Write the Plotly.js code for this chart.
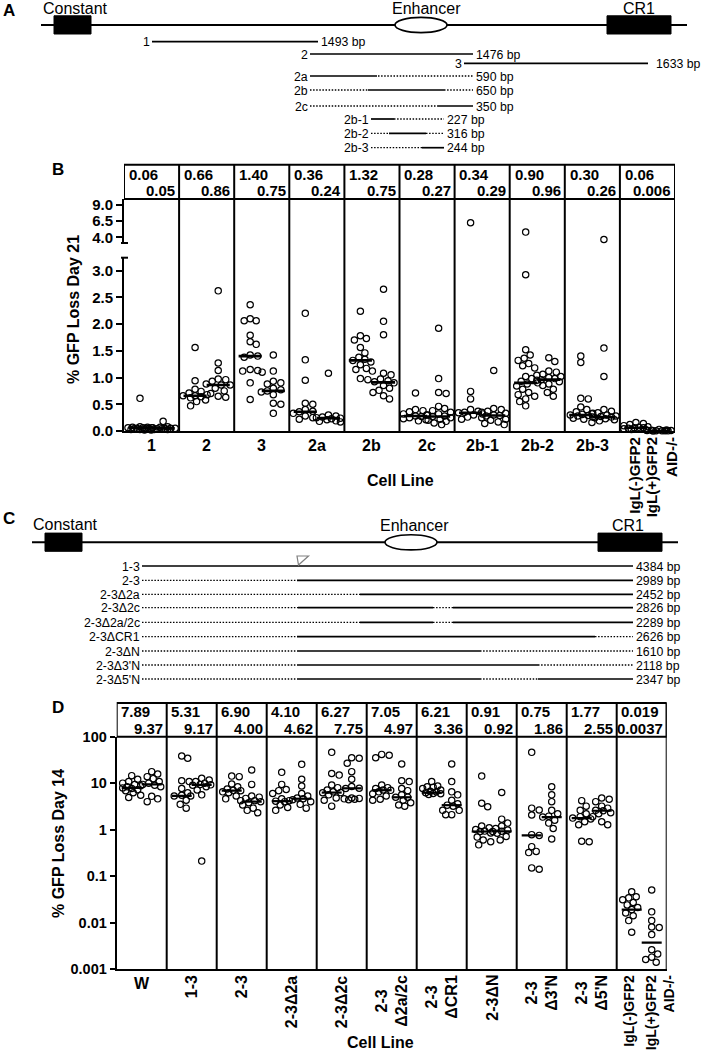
<!DOCTYPE html>
<html><head><meta charset="utf-8">
<script src="https://cdn.plot.ly/plotly-3.0.1.min.js"></script>
<style>html,body{margin:0;padding:0;background:#fff}#chart{width:711px;height:1050px}</style>
</head><body><div id="chart"></div>
<script>
// ================= DATA =================
// Panel A: constructs along the locus (schematic locus units)
const aNames  = ['1','2','3','2a','2b','2c','2b-1','2b-2','2b-3'];
const aSizes  = ['1493 bp','1476 bp','1633 bp','590 bp','650 bp','350 bp','227 bp','316 bp','244 bp'];
const aSolid  = [[[152,318]],[[310,473]],[[464,648]],[[310,377]],[[368,444]],[[438,473]],[[371,394]],[[389,426]],[[422,444]]];
const aDotted = [[],[],[],[[378,473]],[[310,368],[444,473]],[[310,438]],[[394,444]],[[371,389],[426,444]],[[371,422]]];
const aLocus = [41, 687], aConstant = [54, 91], aEnhancer = [395, 447], aCR1 = [607, 671];

// Panel C
const cNames  = ['1-3','2-3','2-3Δ2a','2-3Δ2c','2-3Δ2a/2c','2-3ΔCR1','2-3ΔN',"2-3Δ3'N","2-3Δ5'N"];
const cSizes  = ['4384 bp','2989 bp','2452 bp','2826 bp','2289 bp','2626 bp','1610 bp','2118 bp','2347 bp'];
const cSolid  = [[[142,633]],[[297,633]],[[360,633]],[[298,433],[453,633]],[[360,433],[453,633]],[[297,595]],[[297,480]],[[297,538]],[[297,480],[538,633]]];
const cDotted = [[],[[142,297]],[[142,360]],[[142,298],[433,453]],[[142,360],[433,453]],[[142,297],[595,633]],[[142,297],[480,633]],[[142,297],[538,633]],[[142,297],[480,538]]];
const cLocus = [32, 678], cConstant = [45, 82], cEnhancer = [385, 437], cCR1 = [598, 662];

// Panel B: % GFP loss day 21
const bCats = ['1','2','3','2a','2b','2c','2b-1','2b-2','2b-3'];
const bLastCats = ['IgL(-)GFP2','IgL(+)GFP2<br>AID-/-'];
const bHeadLeft  = ['0.06','0.66','1.40','0.36','1.32','0.28','0.34','0.90','0.30','0.06'];
const bHeadRight = ['0.05','0.86','0.75','0.24','0.75','0.27','0.29','0.96','0.26','0.006'];
const bLineLeft  = [0.06,0.66,1.40,0.36,1.32,0.28,0.34,0.90,0.30,0.06];
const bLineRight = [0.05,0.86,0.75,0.24,0.91,0.27,0.29,0.96,0.26,0.006];
const bPtsLeft = [
  [0.61,0.08,0.07,0.07,0.06,0.06,0.06,0.05,0.05,0.04,0.04,0.03,0.03,0.02],
  [1.56,0.94,0.78,0.74,0.71,0.68,0.66,0.66,0.64,0.62,0.58,0.55,0.47],
  [2.36,2.10,2.06,2.06,1.79,1.67,1.62,1.42,1.40,1.38,1.15,1.13,1.12,1.10,0.90,0.59],
  [2.20,1.33,0.95,0.52,0.50,0.40,0.37,0.36,0.33,0.28,0.25,0.22],
  [2.24,1.78,1.73,1.70,1.56,1.46,1.38,1.34,1.32,1.29,1.24,1.17,1.15,1.12,0.98,0.96],
  [0.71,0.40,0.38,0.36,0.32,0.30,0.28,0.27,0.25,0.23,0.21,0.19],
  [6.25,0.74,0.60,0.40,0.37,0.35,0.34,0.32,0.30,0.26,0.22],
  [4.8,2.92,1.52,1.42,1.36,1.32,1.26,1.22,1.18,1.02,0.98,0.93,0.90,0.88,0.84,0.78,0.72,0.68,0.65,0.60,0.55,0.47],
  [1.40,1.28,0.61,0.60,0.45,0.40,0.36,0.33,0.31,0.30,0.29,0.28,0.26,0.24,0.22],
  [0.16,0.14,0.12,0.10,0.08,0.07,0.06,0.06,0.05,0.04,0.03,0.02]
];
const bPtsRight = [
  [0.18,0.08,0.07,0.06,0.05,0.05,0.05,0.04,0.04,0.03,0.03,0.02],
  [2.62,1.27,1.13,0.97,0.96,0.93,0.88,0.86,0.86,0.80,0.75,0.70,0.65,0.63],
  [1.42,1.12,0.93,0.90,0.88,0.80,0.77,0.75,0.73,0.68,0.52,0.50,0.33],
  [1.08,0.30,0.28,0.26,0.25,0.24,0.23,0.21,0.19,0.18,0.17],
  [2.65,2.05,1.80,1.08,1.05,0.97,0.94,0.92,0.90,0.85,0.80,0.76,0.72,0.66,0.60],
  [1.92,0.98,0.72,0.70,0.46,0.42,0.38,0.35,0.32,0.30,0.28,0.27,0.25,0.22,0.20,0.18,0.15,0.12],
  [1.13,0.42,0.40,0.37,0.35,0.33,0.30,0.29,0.28,0.25,0.22,0.20,0.17,0.14,0.12],
  [1.37,1.30,1.12,1.10,1.06,1.04,1.02,1.00,0.98,0.96,0.95,0.92,0.88,0.85,0.78,0.72,0.65],
  [3.65,1.55,1.02,0.40,0.37,0.34,0.32,0.30,0.28,0.27,0.26,0.25,0.23,0.21,0.19,0.16],
  [0.03,0.02,0.015,0.01,0.008,0.006,0.005,0.004,0.003,0.002]
];
const bTickVals = [0,0.5,1,1.5,2,2.5,3], bTickText = ['0.0','0.5','1.0','1.5','2.0','2.5','3.0'];
const bTopTickVals = [4,6.5,9], bTopTickText = ['4.0','6.5','9.0'];

// Panel D: % GFP loss day 14
const dCats = ['W','1-3','2-3','2-3Δ2a','2-3Δ2c','2-3<br>Δ2a/2c','2-3<br>ΔCR1','2-3ΔN',"2-3<br>Δ3'N","2-3<br>Δ5'N"];
const dLastCats = ['IgL(-)GFP2','IgL(+)GFP2<br>AID-/-'];
const dHeadLeft  = ['7.89','5.31','6.90','4.10','6.27','7.05','6.21','0.91','0.75','1.77','0.019'];
const dHeadRight = ['9.37','9.17','4.00','4.62','7.75','4.97','3.36','0.92','1.86','2.55','0.0037'];
const dPtsLeft = [
  [14.5,12.1,10.8,10.0,9.3,8.8,8.4,7.9,7.7,7.2,6.9,6.2,5.5,4.9],
  [38.4,34.3,11.3,10.8,7.7,6.2,5.5,5.3,5.3,4.3,3.5,2.9],
  [14.2,13.8,9.6,8.4,7.5,7.0,6.9,6.5,6.2,5.3,4.6,4.2],
  [17.1,9.4,7.3,6.9,6.0,4.6,4.2,4.1,4.0,3.4,3.0,2.6],
  [46,16.2,14.9,9.1,8.0,7.1,6.5,6.27,6.2,5.6,4.8,4.3,3.2],
  [41.6,40.0,35.2,9.1,8.0,7.7,7.1,7.0,6.5,5.9,5.3,4.5,4.3],
  [10.8,8.7,8.4,8.2,7.7,7.1,6.7,6.5,6.21,6.0,5.9,5.7],
  [14.2,3.7,3.1,1.2,1.1,1.0,0.93,0.91,0.85,0.69,0.60,0.55,0.47],
  [46,2.9,2.64,2.07,0.78,0.75,0.43,0.34,0.32,0.15,0.14],
  [4.2,3.2,2.6,2.2,1.9,1.77,1.7,1.48,1.27,0.56,0.55],
  [0.046,0.036,0.034,0.031,0.027,0.024,0.021,0.019,0.016,0.014,0.011,0.0062]
];
const dPtsRight = [
  [17.7,15.7,13.8,12.5,10.8,10.0,9.4,9.0,8.4,5.2,4.6,4.0],
  [12.7,11.7,10.8,10.0,9.4,9.2,9.0,8.4,7.1,5.6,0.21],
  [19.2,9.4,5.3,5.0,4.7,4.2,4.0,3.8,3.4,2.9,2.6,2.3],
  [25.4,12.1,8.7,6.0,5.3,4.8,4.62,4.4,4.0,3.5,2.9],
  [35.2,34.3,26.8,17.7,12.1,8.5,7.75,7.7,4.8,4.7,4.6,4.5,4.4],
  [25.9,11.3,10.8,7.7,6.9,5.6,5.0,4.97,4.3,3.8,3.4,3.2],
  [25.9,10.8,6.5,5.6,4.3,3.6,3.36,3.2,2.6,2.6,2.1,2.1],
  [6.3,1.68,1.38,1.2,1.06,0.98,0.92,0.91,0.84,0.71,0.60],
  [8.4,5.6,4.0,2.6,2.2,1.95,1.86,1.6,1.38,1.06,0.63],
  [4.8,4.5,4.0,3.2,2.9,2.6,2.55,2.3,2.2,1.9,1.48,1.27],
  [0.050,0.017,0.011,0.0080,0.0078,0.0055,0.0026,0.0021,0.0018,0.0016,0.0014]
];
const dTickVals = [0.001,0.01,0.1,1,10,100], dTickText = ['0.001','0.01','0.1','1','10','100'];

// ================= LAYOUT / DRAWING =================
const FONT = 'Liberation Sans, Arial, Helvetica, sans-serif';
const W = 711, H = 1050;
const P = p => 1 - p / H;
const G = {
  aLineY: 25, aRowY: [41.7,54,63.3,76,90,106,119,133.3,147.7],
  cLineY: 542.3, cRowY: [566,580.3,594.3,607.7,622.3,636.7,651,665,679],
  bL:124, bR:675, bHeadTop:164.7, bHeadBot:199, bTopBot:243, bBotTop:257.7, bBase:431,
  bTopRange:[3.11,9.94], bBotRange:[0,3.24], bN:10,
  dL:116.7, dR:666.7, dHeadTop:703, dTop:736.7, dBase:969, dN:11
};
const ROWFONT = 12.3, HEADFONT = 15;
const BREAK = 3.2;
const bColPx = (G.bR - G.bL) / G.bN, dColPx = (G.dR - G.dL) / G.dN;
const bBotY = v => G.bBase - (v - G.bBotRange[0]) / (G.bBotRange[1] - G.bBotRange[0]) * (G.bBase - G.bBotTop);
const bTopY = v => G.bTopBot - (v - G.bTopRange[0]) / (G.bTopRange[1] - G.bTopRange[0]) * (G.bTopBot - G.bHeadBot);
const dY = v => G.dBase - (Math.log10(v) + 3) / 5 * (G.dBase - G.dTop);

// simple beeswarm: horizontal pixel offsets so circles do not overlap
function swarm(vals, yfn, diam, maxOff, step) {
  const placed = [], offs = [];
  vals.forEach(v => {
    const y = yfn(v);
    let best = 0, bestScore = -1;
    for (let k = 0; ; k++) {
      const o = (k % 2 === 1 ? 1 : -1) * Math.ceil(k / 2) * step;
      if (Math.abs(o) > maxOff) break;
      let md = Infinity;
      placed.forEach(p => { const d = Math.hypot(p[0] - o, p[1] - y); if (d < md) md = d; });
      if (md >= diam) { best = o; bestScore = Infinity; break; }
      if (md > bestScore) { bestScore = md; best = o; }
    }
    placed.push([best, y]); offs.push(best);
  });
  return offs;
}

const traces = [];
const shapes = [];
const annotations = [];
const black = '#000';
const mk = {symbol:'circle-open', size:6.3, color:black, line:{width:1.2, color:black}};

// ---------- diagrams (A, C) on pixel-like axes x3/y3 ----------
function diagram(rowY, solid, dotted, locus, lineY, names, sizes, boxes, ell, labels, sizeGap) {
  const sx=[], sy=[], dx=[], dy=[];
  rowY.forEach((y, i) => {
    solid[i].forEach(s => { sx.push(s[0], s[1], null); sy.push(y, y, null); });
    dotted[i].forEach(s => { dx.push(s[0], s[1], null); dy.push(y, y, null); });
    const all = solid[i].concat(dotted[i]);
    const x0 = Math.min(...all.map(s => s[0])), x1 = Math.max(...all.map(s => s[1]));
    annotations.push({text:names[i], x:x0 - 1, y:y + 0.5, xref:'x3', yref:'y3', xanchor:'right', yanchor:'middle', showarrow:false, borderpad:0, font:{family:FONT, size:ROWFONT, color:black}});
    annotations.push({text:sizes[i], x:x1 + (sizeGap[i] || 1.5), y:y + 0.5, xref:'x3', yref:'y3', xanchor:'left', yanchor:'middle', showarrow:false, borderpad:0, font:{family:FONT, size:ROWFONT, color:black}});
  });
  traces.push({type:'scatter', mode:'lines', x:[locus[0], locus[1]], y:[lineY, lineY], xaxis:'x3', yaxis:'y3', line:{color:black, width:2}, hoverinfo:'skip'});
  traces.push({type:'scatter', mode:'lines', x:sx, y:sy, xaxis:'x3', yaxis:'y3', line:{color:black, width:1.7}, hoverinfo:'skip'});
  traces.push({type:'scatter', mode:'lines', x:dx, y:dy, xaxis:'x3', yaxis:'y3', line:{color:black, width:1.3, dash:'1.5px,1.6px'}, hoverinfo:'skip'});
  boxes.forEach(b => shapes.push({type:'rect', xref:'x3', yref:'y3', x0:b[0], x1:b[1], y0:lineY - 9.2, y1:lineY + 9, fillcolor:black, line:{color:black, width:1}}));
  shapes.push({type:'circle', xref:'x3', yref:'y3', x0:ell[0], x1:ell[1], y0:lineY - 7.6, y1:lineY + 7.6, fillcolor:'#fff', line:{color:black, width:1.6}});
  labels.forEach(l => annotations.push({text:l[0], x:l[1], y:l[2], xref:'x3', yref:'y3', xanchor:'center', yanchor:'middle', showarrow:false, borderpad:0, font:{family:FONT, size:16, color:black}}));
}
diagram(G.aRowY, aSolid, aDotted, aLocus, G.aLineY, aNames, aSizes, [aConstant, aCR1], aEnhancer,
  [['Constant', 75, 8], ['Enhancer', 426, 8], ['CR1', 639, 8]], [0, 0, 7]);
diagram(G.cRowY, cSolid, cDotted, cLocus, G.cLineY, cNames, cSizes, [cConstant, cCR1], cEnhancer,
  [['Constant', 65, 524.5], ['Enhancer', 414, 525], ['CR1', 628, 525]], []);
// small flag marker on the 1-3 construct
shapes.push({type:'path', xref:'x3', yref:'y3', path:'M297,556 L308.5,556 L298.5,565 Z', fillcolor:'rgba(0,0,0,0)', line:{color:'#808080', width:1.2}});

// panel letters
[['A',9,10],['B',58,169],['C',9,518],['D',58,707]].forEach(l => annotations.push({text:l[0], x:l[1], y:l[2], xref:'x3', yref:'y3', showarrow:false, borderpad:0, font:{family:FONT, size:17, color:black, weight:'bold'}}));

// ---------- Panel B ----------
{
  const bx=[], by=[], bx2=[], by2=[], mx=[], my=[];
  const yfn = v => v > BREAK ? bTopY(v) : bBotY(v);
  for (let i = 0; i < G.bN; i++) {
    [[bPtsLeft[i], -0.21], [bPtsRight[i], 0.21]].forEach(([vals, off]) => {
      const offs = swarm(vals, yfn, 6.3, 12, 1.5);
      vals.forEach((v, j) => {
        const x = i + 0.5 + off + offs[j] / bColPx;
        if (v > BREAK) { bx2.push(x); by2.push(v); } else { bx.push(x); by.push(v); }
      });
    });
    mx.push(i + 0.5 - 0.42, i + 0.5, null, i + 0.5, i + 0.5 + 0.42, null);
    my.push(bLineLeft[i], bLineLeft[i], null, bLineRight[i], bLineRight[i], null);
  }
  traces.push({type:'scatter', mode:'markers', x:bx, y:by, xaxis:'x', yaxis:'y', marker:mk, cliponaxis:false, hoverinfo:'y'});
  traces.push({type:'scatter', mode:'markers', x:bx2, y:by2, xaxis:'x2', yaxis:'y2', marker:mk, cliponaxis:false, hoverinfo:'y'});
  traces.push({type:'scatter', mode:'lines', x:mx, y:my, xaxis:'x', yaxis:'y', line:{color:black, width:2.6}, cliponaxis:false, hoverinfo:'skip'});

  // header
  shapes.push({type:'rect', xref:'x', yref:'paper', x0:0, x1:G.bN, y0:P(G.bHeadBot), y1:P(G.bHeadTop), line:{color:black, width:2}});
  for (let k = 1; k <= G.bN; k++) shapes.push({type:'line', xref:'x', yref:'paper', x0:k, x1:k, y0:P(G.bBase), y1:P(G.bHeadTop), line:{color:black, width:2}});
  // axis break caps
  [G.bTopBot, G.bBotTop].forEach(y => shapes.push({type:'line', xref:'x3', yref:'y3', x0:G.bL - 3, x1:G.bL + 4, y0:y, y1:y, line:{color:black, width:2}}));
  for (let i = 0; i < G.bN; i++) {
    annotations.push({text:bHeadLeft[i], x:i + 0.07, y:P(174), xref:'x', yref:'paper', xanchor:'left', yanchor:'middle', showarrow:false, borderpad:0, font:{family:FONT, size:HEADFONT, color:black, weight:'bold'}});
    annotations.push({text:bHeadRight[i], x:i + 1 - 0.05, y:P(190.8), xref:'x', yref:'paper', xanchor:'right', yanchor:'middle', showarrow:false, borderpad:0, font:{family:FONT, size:HEADFONT, color:black, weight:'bold'}});
  }
  bCats.forEach((c, i) => annotations.push({text:c, x:i + 0.5, y:P(436), xref:'x', yref:'paper', xanchor:'center', yanchor:'top', showarrow:false, borderpad:0, font:{family:FONT, size:16, color:black, weight:'bold'}}));
  annotations.push({text:bLastCats[0], x:9.5 - 0.24, y:P(436), xref:'x', yref:'paper', xanchor:'center', yanchor:'top', textangle:-90, align:'right', showarrow:false, borderpad:0, font:{family:FONT, size:15, color:black, weight:'bold'}});
  annotations.push({text:bLastCats[1], x:9.5 + 0.27, y:P(436), xref:'x', yref:'paper', xanchor:'center', yanchor:'top', textangle:-90, align:'right', showarrow:false, borderpad:0, font:{family:FONT, size:15, color:black, weight:'bold'}});
  annotations.push({text:'Cell Line', x:400, y:480, xref:'x3', yref:'y3', showarrow:false, borderpad:0, font:{family:FONT, size:16, color:black, weight:'bold'}});
  annotations.push({text:'% GFP Loss Day 21', x:73, y:310, xref:'x3', yref:'y3', textangle:-90, showarrow:false, borderpad:0, font:{family:FONT, size:16, color:black, weight:'bold'}});
}

// ---------- Panel D ----------
{
  const x=[], y=[], mx=[], my=[];
  for (let i = 0; i < G.dN; i++) {
    [[dPtsLeft[i], -0.2], [dPtsRight[i], 0.2]].forEach(([vals, off]) => {
      const offs = swarm(vals, dY, 6.3, 10, 1.5);
      vals.forEach((v, j) => { x.push(i + 0.5 + off + offs[j] / dColPx); y.push(v); });
    });
    const l = parseFloat(dHeadLeft[i]), r = parseFloat(dHeadRight[i]);
    mx.push(i + 0.5 - 0.4, i + 0.5, null, i + 0.5, i + 0.5 + 0.4, null);
    my.push(l, l, null, r, r, null);
  }
  traces.push({type:'scatter', mode:'markers', x:x, y:y, xaxis:'x4', yaxis:'y4', marker:mk, cliponaxis:false, hoverinfo:'y'});
  traces.push({type:'scatter', mode:'lines', x:mx, y:my, xaxis:'x4', yaxis:'y4', line:{color:black, width:2.2}, cliponaxis:false, hoverinfo:'skip'});

  shapes.push({type:'rect', xref:'x4', yref:'paper', x0:0, x1:G.dN, y0:P(G.dTop), y1:P(G.dHeadTop), line:{color:black, width:2}});
  for (let k = 1; k <= G.dN; k++) shapes.push({type:'line', xref:'x4', yref:'paper', x0:k, x1:k, y0:P(G.dBase), y1:P(G.dHeadTop), line:{color:black, width:2}});
  for (let i = 0; i < G.dN; i++) {
    annotations.push({text:dHeadLeft[i], x:i + 0.07, y:P(711.7), xref:'x4', yref:'paper', xanchor:'left', yanchor:'middle', showarrow:false, borderpad:0, font:{family:FONT, size:HEADFONT, color:black, weight:'bold'}});
    annotations.push({text:dHeadRight[i], x:i + 1 - 0.06, y:P(728.3), xref:'x4', yref:'paper', xanchor:'right', yanchor:'middle', showarrow:false, borderpad:0, font:{family:FONT, size:HEADFONT, color:black, weight:'bold'}});
  }
  dCats.forEach((c, i) => {
    const rot = i > 0;
    annotations.push({text:c, x:i + 0.5, y:P(974), xref:'x4', yref:'paper', xanchor:'center', yanchor:'top', textangle:rot ? -90 : 0, align:'center', showarrow:false, borderpad:0, font:{family:FONT, size:16, color:black, weight:'bold'}});
  });
  annotations.push({text:dLastCats[0], x:10.5 - 0.26, y:P(974), xref:'x4', yref:'paper', xanchor:'center', yanchor:'top', textangle:-90, align:'right', showarrow:false, borderpad:0, font:{family:FONT, size:14, color:black, weight:'bold'}});
  annotations.push({text:dLastCats[1], x:10.5 + 0.36, y:P(974), xref:'x4', yref:'paper', xanchor:'center', yanchor:'top', textangle:-90, align:'right', showarrow:false, borderpad:0, font:{family:FONT, size:14, color:black, weight:'bold'}});
  annotations.push({text:'Cell Line', x:380, y:1042, xref:'x3', yref:'y3', showarrow:false, borderpad:0, font:{family:FONT, size:16, color:black, weight:'bold'}});
  annotations.push({text:'% GFP Loss Day 14', x:58, y:844, xref:'x3', yref:'y3', textangle:-90, showarrow:false, borderpad:0, font:{family:FONT, size:16, color:black, weight:'bold'}});
}

const axBase = {showgrid:false, zeroline:false, fixedrange:true, linecolor:black, linewidth:2};
const yTicks = {ticks:'outside', ticklen:6, tickwidth:2, tickcolor:black, showline:true};
const layout = {
  width:W, height:H, margin:{l:0, r:0, t:0, b:0}, paper_bgcolor:'#fff', plot_bgcolor:'rgba(0,0,0,0)',
  showlegend:false, font:{family:FONT, color:black}, hovermode:'closest',
  xaxis: Object.assign({}, axBase, {domain:[G.bL / W, G.bR / W], range:[0, G.bN], anchor:'y', showline:true, ticks:'', showticklabels:false}),
  yaxis: Object.assign({}, axBase, yTicks, {domain:[P(G.bBase), P(G.bBotTop)], range:G.bBotRange, anchor:'x', tickvals:bTickVals, ticktext:bTickText, tickfont:{family:FONT, size:15, color:black, weight:'bold'}}),
  xaxis2: Object.assign({}, axBase, {domain:[G.bL / W, G.bR / W], range:[0, G.bN], anchor:'y2', visible:false}),
  yaxis2: Object.assign({}, axBase, yTicks, {domain:[P(G.bTopBot), P(G.bHeadBot)], range:G.bTopRange, anchor:'x2', tickvals:bTopTickVals, ticktext:bTopTickText, tickfont:{family:FONT, size:15, color:black, weight:'bold'}}),
  xaxis3: {domain:[0, 1], range:[0, W], anchor:'y3', visible:false, fixedrange:true},
  yaxis3: {domain:[0, 1], range:[H, 0], anchor:'x3', visible:false, fixedrange:true},
  xaxis4: Object.assign({}, axBase, {domain:[G.dL / W, G.dR / W], range:[0, G.dN], anchor:'y4', showline:true, ticks:'', showticklabels:false}),
  yaxis4: Object.assign({}, axBase, yTicks, {domain:[P(G.dBase), P(G.dTop)], type:'log', range:[-3, 2], anchor:'x4', tickvals:dTickVals, ticktext:dTickText, ticklen:5, tickfont:{family:FONT, size:14.5, color:black, weight:'bold'}}),
  shapes: shapes,
  annotations: annotations
};
Plotly.newPlot('chart', traces, layout, {staticPlot:true, displayModeBar:false});
</script>
</body></html>
